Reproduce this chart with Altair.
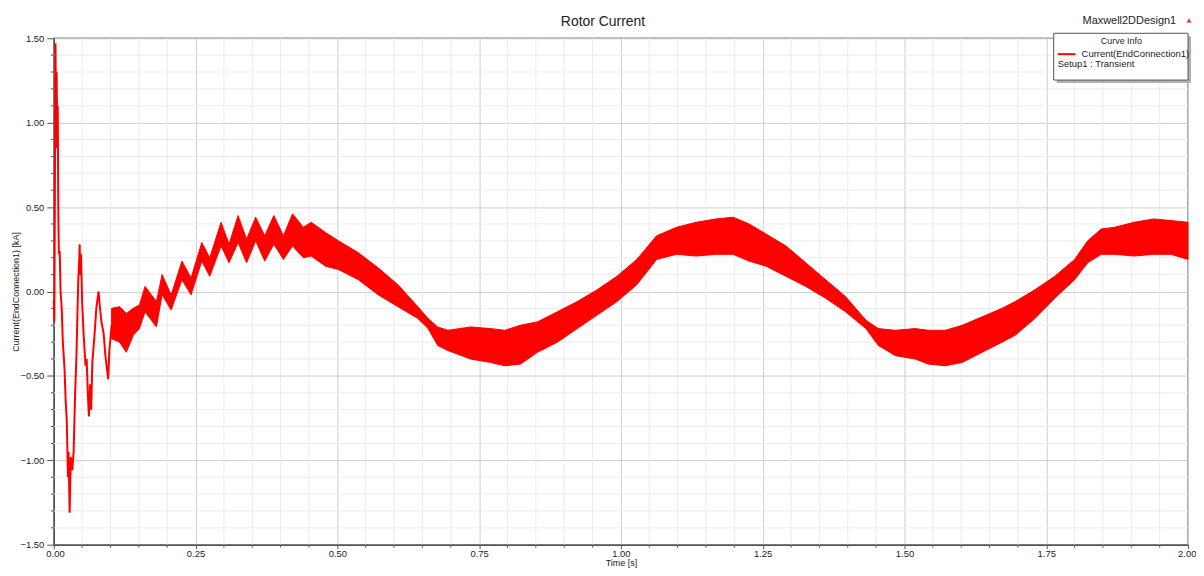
import altair as alt
import pandas as pd

# ---- early transient (single trace), time [s] / current [kA]
early_t = [0.000, 0.001, 0.002, 0.003, 0.0045, 0.005, 0.006, 0.007, 0.008, 0.009,
           0.0105, 0.012, 0.014, 0.016, 0.019, 0.021, 0.023, 0.025, 0.026, 0.028,
           0.030, 0.0325, 0.035, 0.0377, 0.040, 0.043, 0.045, 0.0456, 0.047, 0.048,
           0.050, 0.0526, 0.056, 0.058, 0.060, 0.062, 0.064, 0.066, 0.068, 0.072,
           0.075, 0.079, 0.081, 0.084, 0.088, 0.091, 0.096, 0.098, 0.102]
early_i = [-0.05, -0.18, 0.60, 1.47, 0.85, 1.30, 0.95, 1.10, 0.48, 0.22,
           0.24, 0.00, -0.10, -0.30, -0.46, -0.65, -0.77, -1.10, -0.95, -1.31,
           -0.98, -1.06, -0.95, -0.60, -0.38, 0.05, 0.20, 0.28, 0.10, 0.22,
           -0.06, -0.25, -0.44, -0.40, -0.60, -0.74, -0.55, -0.70, -0.42, -0.25,
           -0.10, 0.00, -0.08, -0.18, -0.25, -0.38, -0.52, -0.35, -0.20]

# ---- ripple band (upper / lower envelope of the fast oscillation)
band_t = [0.102, 0.116, 0.128, 0.140, 0.151, 0.161, 0.181, 0.191, 0.207, 0.226,
          0.242, 0.261, 0.275, 0.295, 0.309, 0.325, 0.340, 0.356, 0.372, 0.388,
          0.405, 0.421, 0.440, 0.454, 0.479, 0.502, 0.537, 0.572, 0.607,
          0.642, 0.660, 0.677, 0.695, 0.735, 0.770, 0.795, 0.823, 0.853, 0.888,
          0.923, 0.958, 0.993, 1.028, 1.063, 1.098, 1.133, 1.168, 1.198, 1.226,
          1.256, 1.291, 1.326, 1.361, 1.396, 1.432, 1.454, 1.484, 1.519, 1.542,
          1.572, 1.602, 1.637, 1.672, 1.695, 1.730, 1.765, 1.800, 1.823, 1.847,
          1.870, 1.905, 1.940, 1.970, 2.000]
band_hi = [-0.10, -0.09, -0.13, -0.10, -0.08, 0.03, -0.06, 0.10, -0.02, 0.18,
           0.08, 0.29, 0.20, 0.41, 0.28, 0.45, 0.31, 0.44, 0.33, 0.45,
           0.33, 0.46, 0.38, 0.41, 0.35, 0.30, 0.23, 0.14, 0.04,
           -0.09, -0.16, -0.21, -0.23, -0.21, -0.22, -0.23, -0.20, -0.18, -0.12,
           -0.06, 0.01, 0.09, 0.19, 0.33, 0.38, 0.41, 0.43, 0.44, 0.40,
           0.34, 0.27, 0.17, 0.07, -0.03, -0.17, -0.22, -0.23, -0.22, -0.23,
           -0.23, -0.20, -0.15, -0.10, -0.06, 0.01, 0.09, 0.19, 0.30, 0.37,
           0.38, 0.41, 0.43, 0.42, 0.41]
band_lo = [-0.28, -0.30, -0.36, -0.26, -0.22, -0.12, -0.21, -0.02, -0.11, 0.07,
           -0.02, 0.18, 0.09, 0.27, 0.17, 0.29, 0.17, 0.30, 0.18, 0.28,
           0.19, 0.27, 0.20, 0.21, 0.15, 0.13, 0.07, -0.02, -0.09,
           -0.16, -0.22, -0.32, -0.35, -0.40, -0.42, -0.44, -0.43, -0.36, -0.30,
           -0.22, -0.14, -0.06, 0.04, 0.19, 0.22, 0.21, 0.22, 0.22, 0.18,
           0.15, 0.09, 0.03, -0.04, -0.12, -0.22, -0.32, -0.38, -0.40, -0.43,
           -0.44, -0.42, -0.36, -0.30, -0.26, -0.16, -0.04, 0.07, 0.17, 0.22,
           0.22, 0.21, 0.22, 0.22, 0.19]

# ---- tick values
x_major = [0.0, 0.25, 0.5, 0.75, 1.0, 1.25, 1.5, 1.75, 2.0]
y_major = [-1.5, -1.0, -0.5, 0.0, 0.5, 1.0, 1.5]
x_minor = [round(0.05 * k, 2) for k in range(41) if k % 5 != 0]
y_minor = [round(-1.5 + 0.1 * k, 2) for k in range(31) if k % 5 != 0]

FONT = "Liberation Sans"
RED = "#ff0000"
W, H = 1140, 509

xs = alt.Scale(domain=[0, 2], nice=False, zero=False)
ys = alt.Scale(domain=[-1.5, 1.5], nice=False, zero=False)

early_df = pd.DataFrame({"t": early_t, "i": early_i})
band_df = pd.DataFrame({"t": band_t, "hi": band_hi, "lo": band_lo})
xminor_df = pd.DataFrame({"v": x_minor})
yminor_df = pd.DataFrame({"v": y_minor})
one = pd.DataFrame({"k": [0]})

x_axis = alt.Axis(values=x_major, format=".2f", title="Time [s]", grid=True,
                  gridColor="#cdcdcd", gridWidth=1, tickSize=4, tickColor="#555555",
                  domainColor="#555555", domainWidth=1.5, labelFont=FONT, labelFontSize=9.5,
                  labelColor="#222222", labelPadding=0, titleFont=FONT, titleFontSize=9,
                  titleFontWeight="normal", titleColor="#222222", titlePadding=0,
                  labelFlush=True, labelFlushOffset=8)
y_axis = alt.Axis(values=y_major, format=".2f", title="Current(EndConnection1) [kA]",
                  grid=True, gridColor="#cdcdcd", gridWidth=1, tickSize=7,
                  tickColor="#555555", domainColor="#555555", domainWidth=1.5,
                  labelFont=FONT, labelFontSize=9.5, labelColor="#222222", labelPadding=3,
                  titleFont=FONT, titleFontSize=9, titleFontWeight="normal",
                  titleColor="#222222", titlePadding=-1, labelFlush=False)

minor_x_grid = alt.Chart(xminor_df).mark_rule(color="#ebebeb", strokeWidth=1).encode(
    x=alt.X("v:Q", scale=xs, axis=x_axis))
minor_y_grid = alt.Chart(yminor_df).mark_rule(color="#ebebeb", strokeWidth=1).encode(
    y=alt.Y("v:Q", scale=ys, axis=y_axis))

band = alt.Chart(band_df).mark_area(color=RED, opacity=1, interpolate="linear",
                                    stroke=RED, strokeWidth=1).encode(
    x=alt.X("t:Q", scale=xs, axis=x_axis),
    y=alt.Y("hi:Q", scale=ys, axis=y_axis),
    y2="lo:Q")

early = alt.Chart(early_df).mark_line(color=RED, strokeWidth=2).encode(
    x=alt.X("t:Q", scale=xs, axis=x_axis),
    y=alt.Y("i:Q", scale=ys, axis=y_axis))

minor_x_ticks = alt.Chart(xminor_df).mark_rule(color="#555555", strokeWidth=1).encode(
    x=alt.X("v:Q", scale=xs, axis=x_axis), y=alt.value(H), y2=alt.value(H + 3))
minor_y_ticks = alt.Chart(yminor_df).mark_rule(color="#555555", strokeWidth=1).encode(
    y=alt.Y("v:Q", scale=ys, axis=y_axis), x=alt.value(-3), x2=alt.value(0))

title = alt.Chart(one).mark_text(text="Rotor Current", font=FONT, fontSize=14,
                                 color="#222222", align="center", baseline="middle").encode(
    x=alt.value(552), y=alt.value(-16))
design = alt.Chart(one).mark_text(text="Maxwell2DDesign1", font=FONT, fontSize=11,
                                  color="#222222", align="center", baseline="middle").encode(
    x=alt.value(1081), y=alt.value(-17))
tri = alt.Chart(one).mark_point(shape="triangle-up", filled=True, size=28,
                                color="#d95050", opacity=1).encode(
    x=alt.value(1141), y=alt.value(-18))

shadow = alt.Chart(one).mark_rect(color="#b0b0b0").encode(
    x=alt.value(1008), x2=alt.value(1143), y=alt.value(-2), y2=alt.value(45))
box = alt.Chart(one).mark_rect(fill="white", stroke="#555555", strokeWidth=1).encode(
    x=alt.value(1005), x2=alt.value(1140), y=alt.value(-5), y2=alt.value(42))
curve_info = alt.Chart(one).mark_text(text="Curve Info", font=FONT, fontSize=9,
                                      color="#222222", align="center", baseline="middle").encode(
    x=alt.value(1073), y=alt.value(3))
sample = alt.Chart(one).mark_rule(color=RED, strokeWidth=2).encode(
    x=alt.value(1009), x2=alt.value(1027), y=alt.value(16))
curve_name = alt.Chart(one).mark_text(text="Current(EndConnection1)", font=FONT, fontSize=9.5,
                                      color="#222222", align="left", baseline="middle").encode(
    x=alt.value(1033), y=alt.value(16))
setup = alt.Chart(one).mark_text(text="Setup1 : Transient", font=FONT, fontSize=9.5,
                                 color="#222222", align="left", baseline="middle").encode(
    x=alt.value(1009), y=alt.value(26))

chart = alt.layer(
    minor_x_grid, minor_y_grid, band, early, minor_x_ticks, minor_y_ticks,
    title, design, tri, shadow, box, curve_info, sample, curve_name, setup
).properties(
    width=W, height=H,
    autosize=alt.AutoSizeParams(type="none"),
    padding={"left": 46, "top": 29, "right": 8, "bottom": 22},
).configure_view(stroke="#8a8a8a", strokeWidth=1.5)

chart.save("out.html", embed_options={"renderer": "svg", "actions": False})
